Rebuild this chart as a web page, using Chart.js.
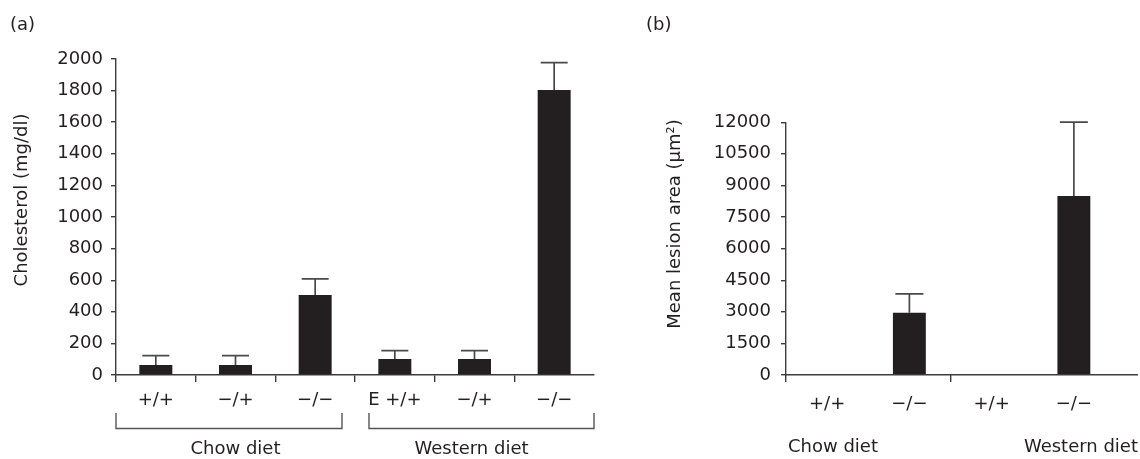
<!DOCTYPE html>
<html>
<head>
<meta charset="utf-8">
<script src="https://cdn.jsdelivr.net/npm/chart.js@4/dist/chart.umd.min.js"></script>
<style>
  html, body { margin: 0; padding: 0; background: #ffffff; }
  #wrap { position: relative; width: 1140px; height: 459px; overflow: hidden; background: #fff; }
  canvas { position: absolute; top: 0; }
</style>
</head>
<body>
<div id="wrap">
  <canvas id="chartA" width="600" height="459" style="left:0px"></canvas>
  <canvas id="chartB" width="540" height="459" style="left:600px"></canvas>
</div>
<script>
// ---------------- DATA ----------------
const cholesterolCategories = ["+/+", "−/+", "−/−", "E +/+", "−/+", "−/−"];
const cholesterolGroups = ["Chow diet", "Western diet"];
const cholesterolGroupSizes = [3, 3];
const cholesterolMean = [63, 63, 506, 101, 101, 1804];
const cholesterolError = [59, 59, 102, 53, 53, 173];
const cholesterolTicks = [0, 200, 400, 600, 800, 1000, 1200, 1400, 1600, 1800, 2000];

const lesionCategories = ["+/+", "−/−", "+/+", "−/−"];
const lesionGroups = ["Chow diet", "Western diet"];
const lesionGroupSizes = [2, 2];
const lesionMean = [0, 2950, 0, 8500];
const lesionError = [0, 900, 0, 3500];
const lesionTicks = [0, 1500, 3000, 4500, 6000, 7500, 9000, 10500, 12000];

// ---------------- STYLE ----------------
const INK = '#231f20';
const AXIS = '#3c3c3c';
const ERR = '#4a4a4a';
const FONT = 'DejaVu Sans';
Chart.defaults.font.family = FONT;
Chart.defaults.font.size = 18;
Chart.defaults.color = INK;

function groupStarts(sizes) {
  const s = []; let acc = 0;
  sizes.forEach(n => { s.push(acc); acc += n; });
  return s;
}

const decorPlugin = {
  id: 'decor',
  afterDatasetsDraw(chart, args, o) {
    const ctx = chart.ctx;
    const ys = chart.scales.y;
    const meta = chart.getDatasetMeta(0);
    const errs = o.errors;
    const means = chart.data.datasets[0].data;
    ctx.save();
    ctx.strokeStyle = ERR;
    ctx.lineWidth = 1.7;
    meta.data.forEach((el, i) => {
      if (!errs[i]) return;
      const x = el.x;
      const yTop = ys.getPixelForValue(means[i] + errs[i]);
      ctx.beginPath();
      ctx.moveTo(x, el.y);
      ctx.lineTo(x, yTop);
      ctx.moveTo(x - o.capHalf, yTop);
      ctx.lineTo(x + o.capHalf, yTop);
      ctx.stroke();
    });
    ctx.restore();
  },
  afterDraw(chart, args, o) {
    const ctx = chart.ctx;
    const xs = chart.scales.x;
    const n = chart.data.labels.length;
    const catW = (xs.right - xs.left) / n;
    const starts = groupStarts(o.groupSizes);
    ctx.save();
    // x-axis line drawn here when it runs past the last category
    if (o.axisExtend) {
      const bw = 1.4;
      const yA = Math.round(xs.top - bw / 2) + bw / 2;
      ctx.strokeStyle = AXIS;
      ctx.lineWidth = bw;
      ctx.beginPath();
      ctx.moveTo(xs.left - bw / 2, yA);
      ctx.lineTo(xs.right + o.axisExtend, yA);
      ctx.stroke();
    }
    ctx.fillStyle = INK;
    ctx.font = '18px "' + FONT + '"';
    ctx.textBaseline = 'middle';
    o.groups.forEach((g, gi) => {
      const first = starts[gi];
      const last = first + o.groupSizes[gi] - 1;
      const left = xs.getPixelForValue(first) - catW / 2 + o.bracketInset[gi][0];
      const right = xs.getPixelForValue(last) + catW / 2 - o.bracketInset[gi][1];
      if (o.brackets) {
        ctx.strokeStyle = '#555';
        ctx.lineWidth = 1.4;
        ctx.beginPath();
        ctx.moveTo(left, o.bracketTop);
        ctx.lineTo(left, o.bracketY);
        ctx.lineTo(right, o.bracketY);
        ctx.lineTo(right, o.bracketTop);
        ctx.stroke();
      }
      let tx, align;
      if (o.groupAlign === 'middle') {
        tx = xs.getPixelForValue(Math.floor((first + last) / 2 + 0.5)) - (gi === 1 ? 3 : 0);
        align = 'center';
      } else {
        const lt = xs.getPixelForValue(first) - catW / 2;
        const rt = xs.getPixelForValue(last) + catW / 2 + (o.axisExtend || 0);
        if (gi === 0) { tx = lt + 2; align = 'left'; } else { tx = rt; align = 'right'; }
      }
      ctx.textAlign = align;
      ctx.fillText(g, tx, o.groupLabelY);
    });
    ctx.textAlign = 'left';
    ctx.fillText(o.panel, o.panelX, 25);
    ctx.save();
    ctx.translate(o.titleX, o.titleY);
    ctx.rotate(-Math.PI / 2);
    ctx.textAlign = 'center';
    ctx.fillText(o.title, 0, 0);
    ctx.restore();
    ctx.restore();
  }
};

function makeChart(id, cfg) {
  const tickVisible = cfg.tickVisible;
  return new Chart(document.getElementById(id), {
    type: 'bar',
    data: {
      labels: cfg.labels,
      datasets: [{
        data: cfg.values,
        backgroundColor: INK,
        borderWidth: 0,
        barPercentage: cfg.barPct,
        categoryPercentage: 1
      }]
    },
    options: {
      responsive: false,
      devicePixelRatio: 1,
      animation: false,
      events: [],
      layout: { padding: cfg.padding },
      plugins: {
        legend: { display: false },
        tooltip: { enabled: false },
        decor: cfg.decor
      },
      scales: {
        x: {
          type: 'category',
          offset: true,
          border: { display: !cfg.decor.axisExtend, color: AXIS, width: 1.4 },
          grid: {
            display: true,
            offset: true,
            drawOnChartArea: false,
            drawTicks: true,
            tickLength: 7,
            lineWidth: 1.4,
            color: (c) => (c.index !== undefined && tickVisible(c.index)) ? AXIS : 'rgba(0,0,0,0)'
          },
          ticks: { padding: cfg.xPad, color: INK, font: { size: 18 }, maxRotation: 0, autoSkip: false },
          afterFit(s) { s.height = cfg.xHeight; }
        },
        y: {
          min: cfg.yTicks[0],
          max: cfg.yTicks[cfg.yTicks.length - 1],
          border: { display: true, color: AXIS, width: 1.4 },
          grid: { display: true, drawOnChartArea: false, drawTicks: true, tickLength: 5, lineWidth: 1.4, color: AXIS },
          ticks: { padding: cfg.yPad, color: INK, font: { size: 18 }, callback: (v) => String(v) },
          afterBuildTicks(s) { s.ticks = cfg.yTicks.map(v => ({ value: v })); },
          afterFit(s) { s.width = cfg.yWidth; }
        }
      }
    },
    plugins: [decorPlugin]
  });
}

const startsB = groupStarts(lesionGroupSizes);

makeChart('chartA', {
  labels: cholesterolCategories,
  values: cholesterolMean,
  yTicks: cholesterolTicks,
  barPct: 0.414,
  padding: { top: 59, right: 6, bottom: 0, left: 0 },
  yWidth: 116,
  xHeight: 84,
  xPad: 8,
  yPad: 8,
  tickVisible: (i) => i < cholesterolCategories.length,
  decor: {
    errors: cholesterolError,
    capHalf: 13.5,
    groups: cholesterolGroups,
    groupSizes: cholesterolGroupSizes,
    brackets: true,
    bracketInset: [[0, 13], [14, 0]],
    bracketY: 428.5,
    bracketTop: 413,
    groupAlign: 'middle',
    groupLabelY: 449,
    axisExtend: 0,
    panel: '(a)',
    panelX: 10,
    title: 'Cholesterol (mg/dl)',
    titleX: 22,
    titleY: 200
  }
});

makeChart('chartB', {
  labels: lesionCategories,
  values: lesionMean,
  yTicks: lesionTicks,
  barPct: 0.40,
  padding: { top: 122.2, right: 25, bottom: 0, left: 0 },
  yWidth: 186,
  xHeight: 84,
  xPad: 12,
  yPad: 10,
  tickVisible: (i) => startsB.includes(i),
  decor: {
    errors: lesionError,
    capHalf: 14,
    groups: lesionGroups,
    groupSizes: lesionGroupSizes,
    brackets: false,
    bracketInset: [[0, 0], [0, 0]],
    bracketY: 0,
    bracketTop: 0,
    groupAlign: 'edges',
    groupLabelY: 447,
    axisExtend: 23,
    panel: '(b)',
    panelX: 46,
    title: 'Mean lesion area (µm²)',
    titleX: 75,
    titleY: 224
  }
});
</script>
</body>
</html>
